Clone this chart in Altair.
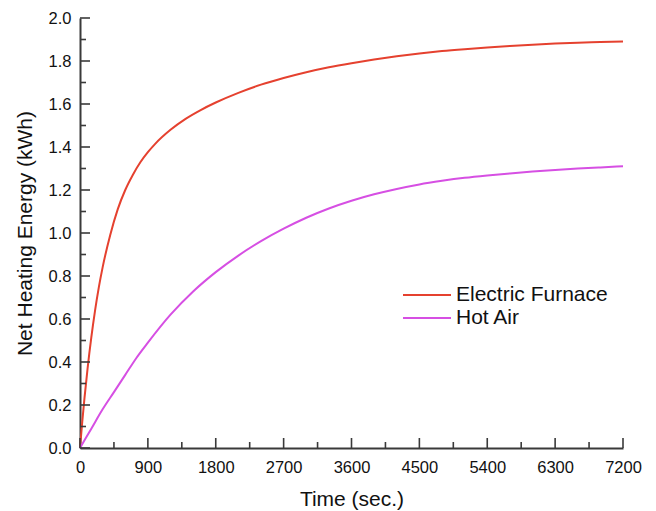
import altair as alt
import pandas as pd

# ---- data ----
ef_time = [0, 30, 60, 100, 150, 200, 250, 300, 400, 500, 600, 700, 800, 900, 1000,
           1200, 1400, 1600, 1800, 2100, 2400, 2700, 3000, 3300, 3600, 3900, 4200,
           4500, 4800, 5100, 5400, 5700, 6000, 6300, 6600, 6900, 7200]
ef_energy = [0, 0.123, 0.234, 0.368, 0.514, 0.640, 0.748, 0.84, 0.99, 1.11, 1.20, 1.27,
             1.329, 1.376, 1.416, 1.48, 1.531, 1.572, 1.607, 1.652, 1.690, 1.721, 1.748,
             1.771, 1.790, 1.807, 1.822, 1.835, 1.846, 1.855, 1.863, 1.870, 1.876, 1.881,
             1.885, 1.888, 1.891]

ha_time = [0, 150, 300, 450, 600, 750, 900, 1200, 1500, 1800, 2100, 2400, 2700, 3000,
           3300, 3600, 3900, 4200, 4500, 4800, 5100, 5400, 5700, 6000, 6300, 6600, 6900, 7200]
ha_energy = [0, 0.09, 0.18, 0.26, 0.34, 0.42, 0.49, 0.62, 0.728, 0.818, 0.895, 0.962, 1.02,
             1.071, 1.114, 1.15, 1.18, 1.205, 1.226, 1.2425, 1.2565, 1.2675, 1.277, 1.2855,
             1.293, 1.2995, 1.3052, 1.3103]

series_names = ["Electric Furnace", "Hot Air"]
series_colors = ["#e5412f", "#d64fe3"]

x_major = [0, 900, 1800, 2700, 3600, 4500, 5400, 6300, 7200]
x_minor = [450, 1350, 2250, 3150, 4050, 4950, 5850, 6750]
y_major = [0.0, 0.2, 0.4, 0.6, 0.8, 1.0, 1.2, 1.4, 1.6, 1.8, 2.0]
y_minor = [0.1, 0.3, 0.5, 0.7, 0.9, 1.1, 1.3, 1.5, 1.7, 1.9]

df = pd.concat([
    pd.DataFrame({"t": ef_time, "e": ef_energy, "s": series_names[0]}),
    pd.DataFrame({"t": ha_time, "e": ha_energy, "s": series_names[1]}),
])

AX = "#3a3a3a"
FONT = "Liberation Sans"
W, H = 543, 430

xs = alt.Scale(domain=[0, 7200], nice=False, zero=False)
ys = alt.Scale(domain=[0, 2.0], nice=False, zero=False)

x_axis = alt.Axis(values=x_major, format="d", ticks=False, grid=False,
                  domainColor=AX, domainWidth=2, labelColor="#111",
                  labelFontSize=16.5, labelPadding=11, titleFontSize=21,
                  titleFontWeight="normal", titleColor="#111", titlePadding=13,
                  labelFont=FONT, titleFont=FONT, labelFlush=False)
y_axis = alt.Axis(values=y_major, format=".1f", ticks=False, grid=False,
                  domainColor=AX, domainWidth=2, labelColor="#111",
                  labelFontSize=16.5, labelPadding=9, titleFontSize=21,
                  titleFontWeight="normal", titleColor="#111", titlePadding=13,
                  labelFont=FONT, titleFont=FONT, labelFlush=False)

lines = alt.Chart(df).mark_line(strokeWidth=2, interpolate="monotone").encode(
    x=alt.X("t:Q", scale=xs, title="Time (sec.)", axis=x_axis),
    y=alt.Y("e:Q", scale=ys, title="Net Heating Energy (kWh)", axis=y_axis),
    color=alt.Color("s:N", scale=alt.Scale(domain=series_names, range=series_colors),
                    sort=series_names,
                    legend=alt.Legend(title=None, orient="none", legendX=334, legendY=264,
                                      symbolType="M-2,0H2", symbolSize=576,
                                      symbolStrokeWidth=2, labelFontSize=21,
                                      labelFont=FONT, labelColor="#111", labelOffset=16,
                                      rowPadding=0, padding=0)),
)

ymaj = alt.Chart(pd.DataFrame({"e": y_major})).mark_rule(color=AX, strokeWidth=1.6).encode(
    y=alt.Y("e:Q", scale=ys, title="Net Heating Energy (kWh)", axis=y_axis),
    x=alt.value(0), x2=alt.value(10))
ymin = alt.Chart(pd.DataFrame({"e": y_minor})).mark_rule(color=AX, strokeWidth=1.6).encode(
    y=alt.Y("e:Q", scale=ys, title="Net Heating Energy (kWh)", axis=y_axis),
    x=alt.value(0), x2=alt.value(6))
xmaj = alt.Chart(pd.DataFrame({"t": x_major})).mark_rule(color=AX, strokeWidth=1.6).encode(
    x=alt.X("t:Q", scale=xs, title="Time (sec.)", axis=x_axis),
    y=alt.value(H), y2=alt.value(H - 10))
xmin = alt.Chart(pd.DataFrame({"t": x_minor})).mark_rule(color=AX, strokeWidth=1.6).encode(
    x=alt.X("t:Q", scale=xs, title="Time (sec.)", axis=x_axis),
    y=alt.value(H), y2=alt.value(H - 6))

chart = alt.layer(lines, ymaj, ymin, xmaj, xmin).properties(
    width=W, height=H,
    autosize=alt.AutoSizeParams(type="none"),
    padding={"left": 80, "top": 18, "right": 33, "bottom": 63},
    background="white",
).configure_view(stroke=None)

chart.save("out.html", embed_options={"renderer": "svg", "actions": False})
